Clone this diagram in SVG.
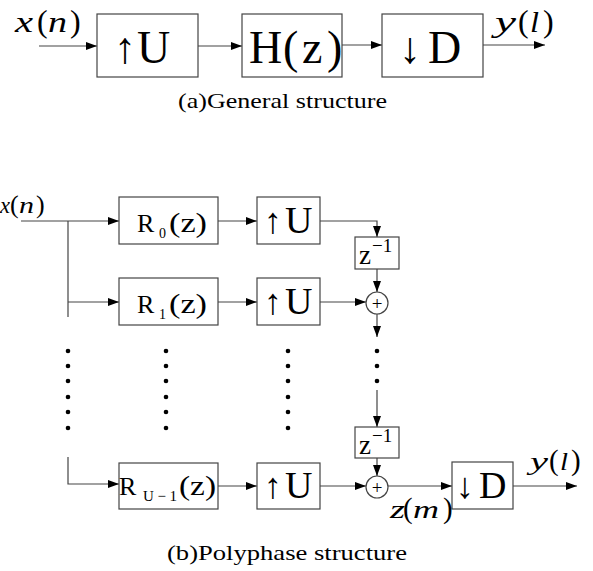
<svg xmlns="http://www.w3.org/2000/svg" width="593" height="571" viewBox="0 0 593 571" font-family="Liberation Serif, Times New Roman, serif">
<style>
  .box { fill: #fff; stroke: #444; stroke-width: 1.2; }
  .ln { fill: none; stroke: #444; stroke-width: 1.2; }
  .arr { marker-end: url(#ah); }
  text { fill: #000; }
  .i { font-style: italic; }
  .dot { fill: #000; }
</style>
<defs>
  <marker id="ah" markerUnits="userSpaceOnUse" markerWidth="11" markerHeight="8" refX="11" refY="4" orient="auto">
    <path d="M0,0 L11,4 L0,8 z" fill="#000"/>
  </marker>
</defs>
<rect width="593" height="571" fill="#fff"/>

<!-- (a) General structure -->
<g id="a-connectors">
  <line class="ln arr" x1="39" y1="46" x2="97" y2="46"/>
  <line class="ln arr" x1="198" y1="46" x2="242" y2="46"/>
  <line class="ln arr" x1="342" y1="45" x2="382" y2="45"/>
  <line class="ln arr" x1="483" y1="45" x2="545" y2="45"/>
</g>
<g id="a-input">
  <text class="i" x="15" y="32" font-size="29" textLength="18" lengthAdjust="spacingAndGlyphs">x</text>
  <text x="37" y="32" font-size="32">(</text>
  <text class="i" x="48" y="32" font-size="29" textLength="19" lengthAdjust="spacingAndGlyphs">n</text>
  <text x="70" y="32" font-size="32">)</text>
</g>
<g id="a-upU">
  <rect class="box" x="97" y="14" width="101" height="63"/>
  <text x="114" y="63" font-size="44">↑</text>
  <text x="137" y="63" font-size="46">U</text>
</g>
<g id="a-H">
  <rect class="box" x="242" y="14" width="100" height="63"/>
  <text y="63" font-size="46"><tspan x="249">H</tspan><tspan x="283">(</tspan><tspan x="302">z</tspan><tspan x="327">)</tspan></text>
</g>
<g id="a-downD">
  <rect class="box" x="382" y="14" width="101" height="63"/>
  <text x="399" y="63" font-size="44">↓</text>
  <text x="428" y="63" font-size="46">D</text>
</g>
<g id="a-output">
  <text class="i" x="495" y="32" font-size="29" textLength="21" lengthAdjust="spacingAndGlyphs">y</text>
  <text x="518" y="32" font-size="32">(</text>
  <text class="i" x="530" y="32" font-size="29" textLength="9" lengthAdjust="spacingAndGlyphs">l</text>
  <text x="543" y="32" font-size="32">)</text>
</g>
<g id="a-caption"><text x="178" y="108" font-size="22" textLength="209" lengthAdjust="spacingAndGlyphs">(a)General structure</text></g>

<!-- (b) Polyphase structure -->
<g id="b-connectors">
  <line class="ln arr" x1="21" y1="221" x2="119" y2="221"/>
  <line class="ln" x1="68" y1="221" x2="68" y2="317"/>
  <line class="ln arr" x1="68" y1="302" x2="119" y2="302"/>
  <polyline class="ln arr" points="68,457 68,484 119,484"/>
  <line class="ln arr" x1="218" y1="221" x2="257" y2="221"/>
  <line class="ln arr" x1="218" y1="302" x2="257" y2="302"/>
  <line class="ln arr" x1="218" y1="486" x2="257" y2="486"/>
  <polyline class="ln arr" points="320,221 377,221 377,237"/>
  <line class="ln arr" x1="377" y1="269" x2="377" y2="292"/>
  <line class="ln arr" x1="320" y1="302" x2="366" y2="302"/>
  <line class="ln arr" x1="377" y1="314" x2="377" y2="337"/>
  <line class="ln arr" x1="377" y1="390" x2="377" y2="427"/>
  <line class="ln arr" x1="377" y1="458" x2="377" y2="476"/>
  <line class="ln arr" x1="320" y1="486" x2="366" y2="486"/>
  <line class="ln arr" x1="388" y1="486" x2="452" y2="486"/>
  <line class="ln arr" x1="513" y1="486" x2="577" y2="486"/>
</g>
<g id="b-input">
  <text class="i" x="0" y="213" font-size="24" textLength="10" lengthAdjust="spacingAndGlyphs">x</text>
  <text x="10" y="213" font-size="26">(</text>
  <text class="i" x="19" y="213" font-size="24" textLength="15" lengthAdjust="spacingAndGlyphs">n</text>
  <text x="36" y="213" font-size="26">)</text>
</g>

<g id="b-R0">
  <rect class="box" x="119" y="197" width="99" height="47"/>
  <text x="137" y="232" font-size="26">R</text>
  <text x="159" y="238" font-size="14">0</text>
  <text x="169" y="232" font-size="27" textLength="38" lengthAdjust="spacingAndGlyphs">(z)</text>
</g>
<g id="b-U0">
  <rect class="box" x="257" y="197" width="63" height="47"/>
  <text x="264" y="233" font-size="36">↑</text>
  <text x="285" y="233" font-size="38">U</text>
</g>
<g id="b-R1">
  <rect class="box" x="119" y="278" width="99" height="47"/>
  <text x="137" y="313" font-size="26">R</text>
  <text x="159" y="319" font-size="14">1</text>
  <text x="169" y="313" font-size="27" textLength="38" lengthAdjust="spacingAndGlyphs">(z)</text>
</g>
<g id="b-U1">
  <rect class="box" x="257" y="278" width="63" height="47"/>
  <text x="264" y="314" font-size="36">↑</text>
  <text x="285" y="314" font-size="38">U</text>
</g>
<g id="b-RU1">
  <rect class="box" x="119" y="463" width="99" height="46"/>
  <text x="119" y="495" font-size="26">R</text>
  <text x="143" y="501" font-size="15" textLength="34" lengthAdjust="spacing">U − 1</text>
  <text x="179" y="495" font-size="27" textLength="37" lengthAdjust="spacingAndGlyphs">(z)</text>
</g>
<g id="b-UU1">
  <rect class="box" x="257" y="463" width="63" height="46"/>
  <text x="264" y="498" font-size="36">↑</text>
  <text x="285" y="498" font-size="38">U</text>
</g>
<g id="b-z1a">
  <rect class="box" x="355" y="237" width="44" height="32"/>
  <text x="359" y="264" font-size="27">z</text>
  <text x="372" y="252" font-size="19">−1</text>
</g>
<g id="b-sum1">
  <circle class="box" cx="377" cy="303" r="11"/>
  <text x="377" y="309.5" font-size="19" text-anchor="middle">+</text>
</g>
<g id="b-z1b">
  <rect class="box" x="355" y="427" width="44" height="31"/>
  <text x="359" y="454" font-size="27">z</text>
  <text x="372" y="442" font-size="19">−1</text>
</g>
<g id="b-sum2">
  <circle class="box" cx="377" cy="487" r="11"/>
  <text x="377" y="493.5" font-size="19" text-anchor="middle">+</text>
</g>
<g id="b-downD">
  <rect class="box" x="452" y="462" width="61" height="47"/>
  <text x="456" y="498" font-size="36">↓</text>
  <text x="479" y="498" font-size="38">D</text>
</g>
<g id="b-zm">
  <text class="i" x="390" y="518" font-size="26" textLength="15" lengthAdjust="spacingAndGlyphs">z</text>
  <text x="403" y="518" font-size="29">(</text>
  <text class="i" x="413" y="518" font-size="26" textLength="26" lengthAdjust="spacingAndGlyphs">m</text>
  <text x="443" y="518" font-size="29">)</text>
</g>
<g id="b-output">
  <text class="i" x="530" y="470" font-size="26" textLength="18" lengthAdjust="spacingAndGlyphs">y</text>
  <text x="549" y="470" font-size="29">(</text>
  <text class="i" x="560" y="470" font-size="26" textLength="8" lengthAdjust="spacingAndGlyphs">l</text>
  <text x="571" y="470" font-size="29">)</text>
</g>

<g id="b-dots">
  <circle class="dot" cx="68" cy="351" r="2.3"/><circle class="dot" cx="68" cy="366" r="2.3"/><circle class="dot" cx="68" cy="381" r="2.3"/>
  <circle class="dot" cx="68" cy="397" r="2.3"/><circle class="dot" cx="68" cy="412" r="2.3"/><circle class="dot" cx="68" cy="428" r="2.3"/>
  <circle class="dot" cx="166" cy="351" r="2.3"/><circle class="dot" cx="166" cy="366" r="2.3"/><circle class="dot" cx="166" cy="381" r="2.3"/>
  <circle class="dot" cx="166" cy="397" r="2.3"/><circle class="dot" cx="166" cy="412" r="2.3"/><circle class="dot" cx="166" cy="428" r="2.3"/>
  <circle class="dot" cx="288" cy="351" r="2.3"/><circle class="dot" cx="288" cy="366" r="2.3"/><circle class="dot" cx="288" cy="381" r="2.3"/>
  <circle class="dot" cx="288" cy="397" r="2.3"/><circle class="dot" cx="288" cy="412" r="2.3"/><circle class="dot" cx="288" cy="428" r="2.3"/>
  <circle class="dot" cx="377" cy="351" r="2.3"/><circle class="dot" cx="377" cy="366" r="2.3"/><circle class="dot" cx="377" cy="381" r="2.3"/>
</g>
<g id="b-caption"><text x="167" y="560" font-size="22" textLength="240" lengthAdjust="spacingAndGlyphs">(b)Polyphase structure</text></g>
</svg>
